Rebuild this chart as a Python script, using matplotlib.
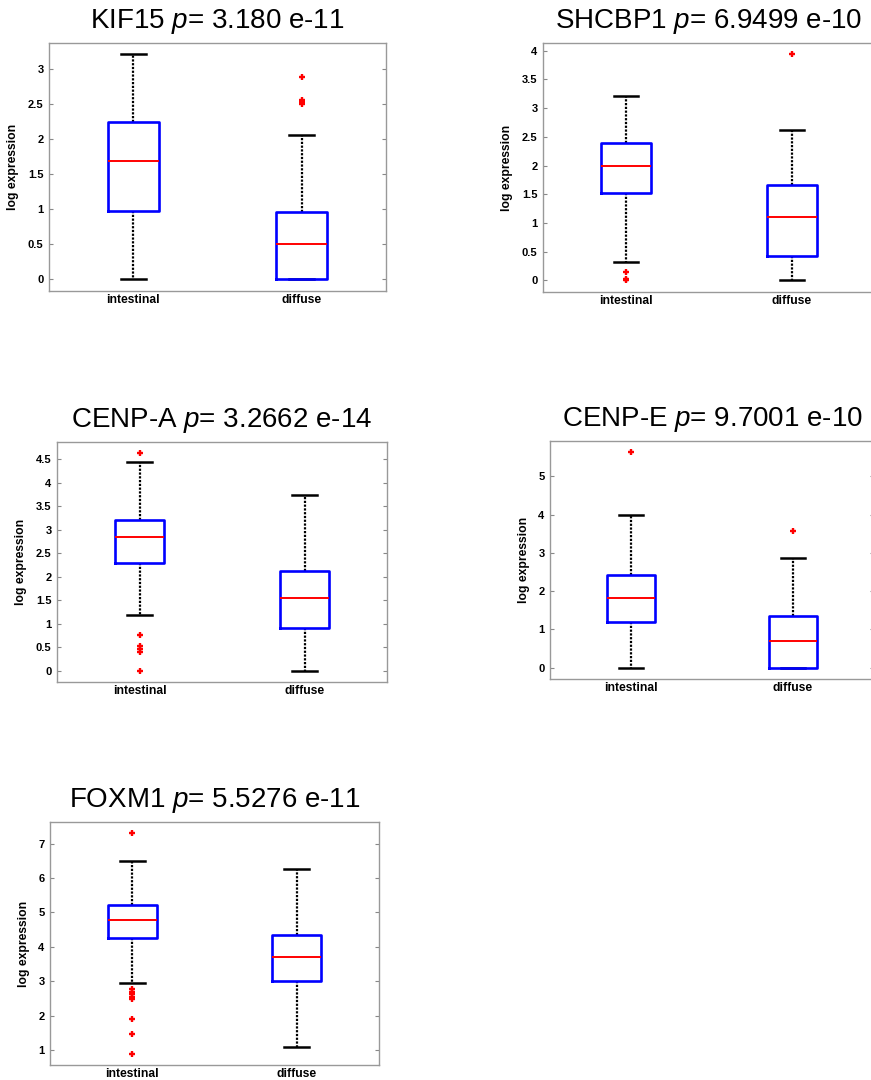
import matplotlib
matplotlib.use("Agg")
import matplotlib.pyplot as plt
from matplotlib.ticker import FormatStrFormatter
import numpy as np

plt.rcParams["font.family"] = ["Liberation Sans", "DejaVu Sans"]
plt.rcParams["mathtext.fontset"] = "custom"
plt.rcParams["mathtext.rm"] = "Liberation Sans"
plt.rcParams["mathtext.it"] = "Liberation Sans:italic"

genes = ["KIF15", "SHCBP1", "CENP-A", "CENP-E", "FOXM1"]
p_values = ["3.180 e-11", "6.9499 e-10", "3.2662 e-14", "9.7001 e-10", "5.5276 e-11"]
groups = ["intestinal", "diffuse"]

# box statistics: [intestinal, diffuse]
whislo = [[0.0, 0.0], [0.32, 0.0], [1.19, 0.0], [0.0, 0.0], [2.945, 1.097]]
q1 = [[0.97, 0.0], [1.523, 0.43], [2.303, 0.921], [1.183, 0.0], [4.258, 2.994]]
med = [[1.69, 0.50], [2.0, 1.11], [2.856, 1.552], [1.826, 0.704], [4.793, 3.694]]
q3 = [[2.243, 0.957], [2.384, 1.663], [3.217, 2.119], [2.409, 1.339], [5.221, 4.336]]
whishi = [[3.21, 2.062], [3.21, 2.616], [4.437, 3.749], [4.0, 2.861], [6.504, 6.27]]
fliers = [
    [[], [2.886, 2.562, 2.53, 2.50]],
    [[0.15, 0.03, 0.0], [3.936]],
    [[4.628, 0.772, 0.532, 0.475, 0.397, 0.0], []],
    [[5.643], [3.565]],
    [[7.30, 2.77, 2.70, 2.62, 2.55, 2.47, 1.904, 1.457, 0.883], []],
]

# panel layout in pixels: left, right, top, bottom
W, H = 871, 1080
boxes_px = [(49, 386, 43, 291), (543, 875, 43, 292), (57, 387, 442, 682),
            (550, 874, 441, 679), (50, 379, 822, 1065)]
ylims = [(-0.167, 3.371), (-0.2035, 4.134), (-0.234, 4.869), (-0.296, 5.92), (0.562, 7.632)]
yticks = [np.arange(0, 3.01, 0.5), np.arange(0, 4.01, 0.5), np.arange(0, 4.51, 0.5),
          np.arange(0, 5.01, 1), np.arange(1, 7.01, 1)]

fig = plt.figure(figsize=(W / 100, H / 100), dpi=100)

for i, gene in enumerate(genes):
    l, r, t, b = boxes_px[i]
    ax = fig.add_axes([l / W, 1 - b / H, (r - l) / W, (b - t) / H])
    stats = []
    for j, g in enumerate(groups):
        stats.append(dict(label=g, whislo=whislo[i][j], q1=q1[i][j], med=med[i][j],
                          q3=q3[i][j], whishi=whishi[i][j], fliers=fliers[i][j]))
    ax.bxp(stats, positions=[1, 2], widths=0.3,
           boxprops=dict(color="#0000ff", lw=1.9, zorder=2.2),
           medianprops=dict(color="#ff0000", lw=1.4, zorder=2.3),
           whiskerprops=dict(color="black", lw=1.6, linestyle=(0, (1, 0.7)), zorder=2),
           capprops=dict(color="black", lw=1.8, zorder=2),
           flierprops=dict(marker="+", markeredgecolor="#ff0000", markersize=5,
                           markeredgewidth=1.7, linestyle="none"))
    ax.set_xlim(0.5, 2.5)
    ax.set_ylim(*ylims[i])
    ax.set_yticks(yticks[i])
    ax.yaxis.set_major_formatter(FormatStrFormatter("%g"))
    ax.tick_params(axis="y", direction="in", length=3, width=0.8, color="#888888",
                   left=True, right=True, labelsize=8, pad=4)
    ax.tick_params(axis="x", length=0, labelsize=8.7, pad=2)
    for lab in ax.get_xticklabels() + ax.get_yticklabels():
        lab.set_fontweight("bold")
    for sp in ax.spines.values():
        sp.set_color("#999999")
        sp.set_linewidth(1.0)
    ax.set_ylabel("log expression", fontsize=8.7, fontweight="bold", labelpad=6)
    ax.set_title(gene + r" $\it{p}$= " + p_values[i], fontsize=20, pad=10.5)

fig.savefig("out.png", dpi=100)
